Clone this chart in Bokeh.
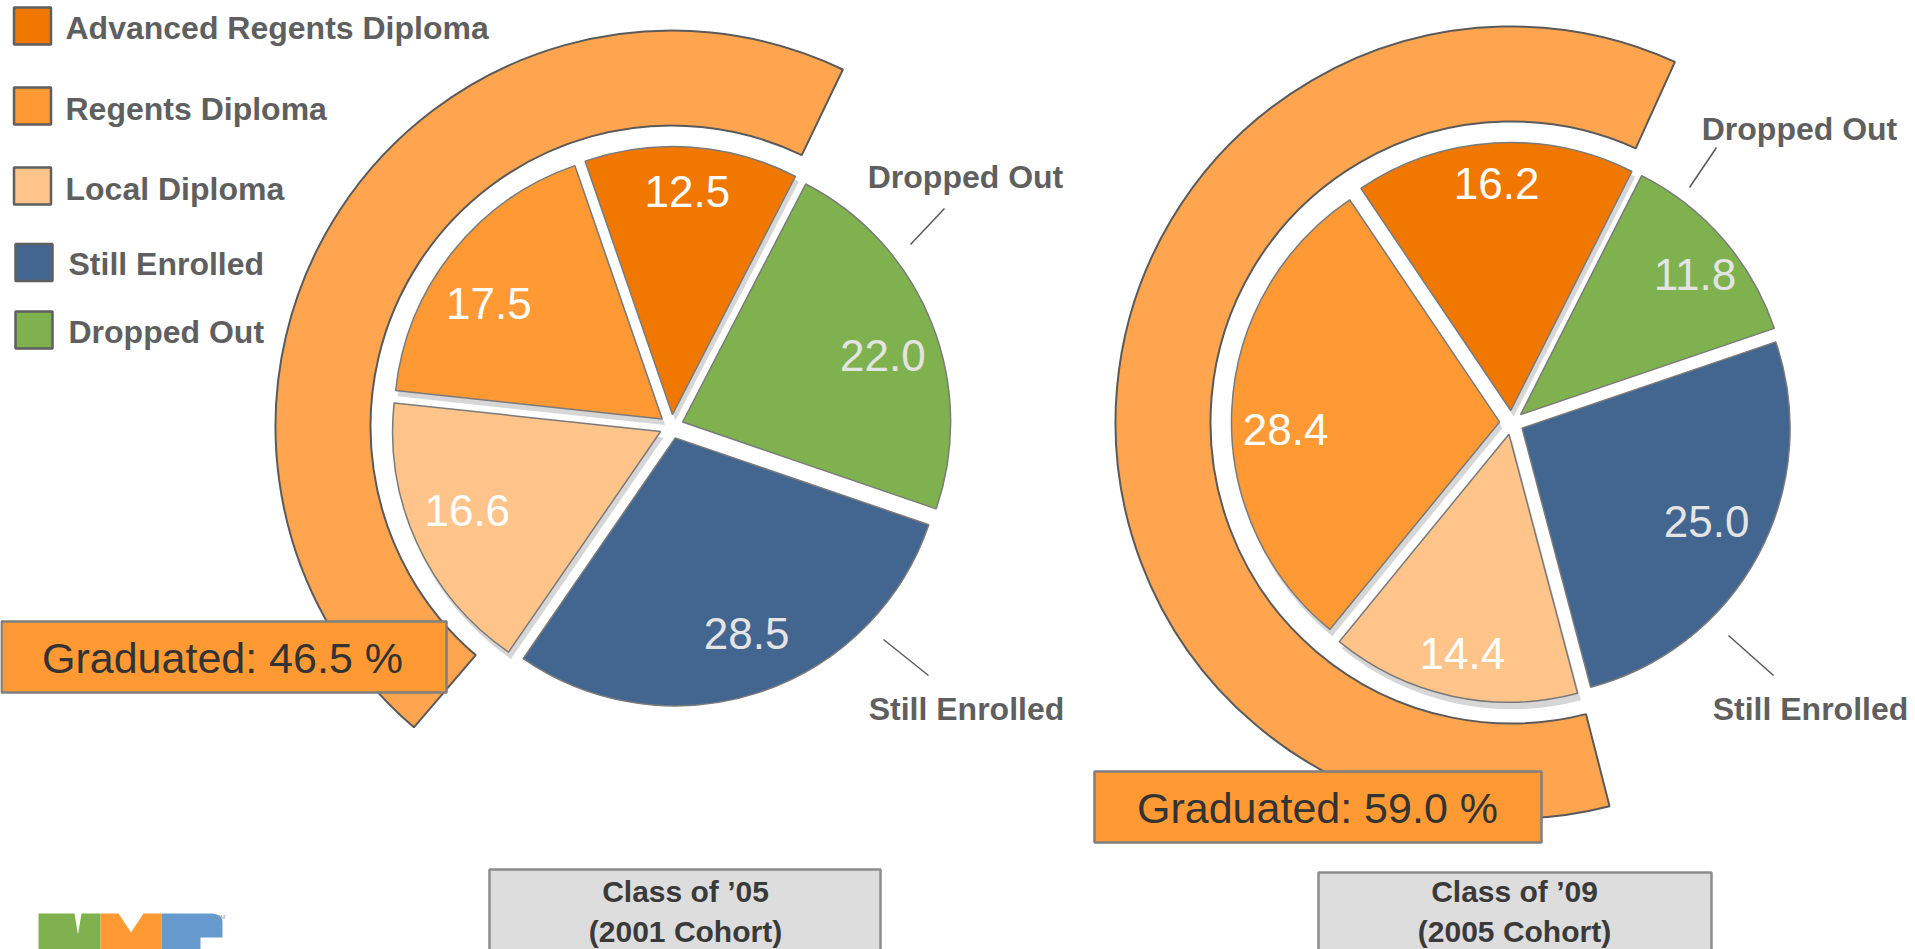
import math
from bokeh.plotting import figure
from bokeh.models import Range1d
from bokeh.core.properties import value
from bokeh.embed import file_html
from bokeh.resources import INLINE

# ---------------- data ----------------
categories = ["Advanced Regents Diploma", "Regents Diploma", "Local Diploma",
              "Still Enrolled", "Dropped Out"]
colors = ["#F07800", "#FF9933", "#FFC48A", "#426690", "#7FB24F"]
label_colors = ["#FFFFFF", "#FFFFFF", "#FFFFFF", "#E4E4E4", "#E4E4E4"]
class_05 = [12.5, 17.5, 16.6, 28.5, 22.0]
class_09 = [16.2, 28.4, 14.4, 25.0, 11.8]
graduated = [46.5, 59.0]
cohort_titles = [["Class of \u201905", "(2001 Cohort)"],
                 ["Class of \u201909", "(2005 Cohort)"]]
callout_names = ["Dropped Out", "Still Enrolled"]
graduated_flags = [True, True, True, False, False]
pie_order = [0, 4, 3, 2, 1]          # clockwise slice order starting from first slice

# ---------------- layout ----------------
W, H = 1915, 949
FONT = value("Liberation Sans")
GRAY_TXT = "#5F5F5F"

R_PIE = 268
EXPLODE = 12
BAND_IN, BAND_OUT = 301, 396

pies = [
    dict(vals=class_05, cx=671, cy=426, rot=-19.0, trim=(6.0, 1.7),
         lab_r=[236, 220, 221, 220, 223], lab_dt=[-0.3, -4.7, 2.2, -1.7, 3.3],
         gbox=(1, 446, 621, 692), gtx=222, gmid=657,
         cbox=(489, 880, 869), ctx=685,
         callouts=[(965, 176, (944, 208), (910, 244)),
                   (966, 708, (883, 639), (928, 675))]),
    dict(vals=class_09, cx=1511, cy=422, rot=-34.0, trim=(0.5, 2.5),
         lab_r=[239, 226, 236, 219, 236], lab_dt=[0.0, -4.4, -0.2, -1.2, 2.0],
         gbox=(1094, 1541, 771, 842), gtx=1317, gmid=807,
         cbox=(1318, 1711, 872), ctx=1514,
         callouts=[(1799, 128, (1716, 147), (1689, 187)),
                   (1810, 708, (1728, 635), (1773, 675))]),
]

p = figure(width=W, height=H, x_range=Range1d(0, W), y_range=Range1d(-H, 0),
           output_backend="svg", toolbar_location=None, min_border=0,
           x_axis_location=None, y_axis_location=None)
p.xgrid.visible = False
p.ygrid.visible = False
p.outline_line_color = None
p.background_fill_color = "white"
p.border_fill_color = "white"


def geometry(vals, rot):
    total = sum(vals)
    out = {}
    cum = rot
    for i in pie_order:
        span = vals[i] / total * 360.0
        out[i] = (cum, cum + span)
        cum += span
    return out


for k, pie in enumerate(pies):
    cx, cy = pie["cx"], -pie["cy"]
    geo = geometry(pie["vals"], pie["rot"])

    # outer "graduated" band
    b_start = geo[2][0] + pie["trim"][0]
    b_end = geo[0][1] - pie["trim"][1]
    p.annular_wedge(x=[cx], y=[cy], inner_radius=BAND_IN, outer_radius=BAND_OUT,
                    start_angle=[math.radians(90 - b_end)],
                    end_angle=[math.radians(90 - b_start)],
                    fill_color="#FFA54F", line_color="#5A5A5A", line_width=2)

    # graduated label box
    l, r, t, b = pie["gbox"]
    p.quad(left=[l], right=[r], top=[-t], bottom=[-b], fill_color="#FF9933",
           line_color="#7F7F7F", line_width=2.5)
    p.text(x=[pie["gtx"]], y=[-pie["gmid"]],
           text=["Graduated: %.1f %%" % graduated[k]], text_font=FONT,
           text_font_size="43px", text_color="#333333", text_align="center",
           text_baseline="middle")

    # slices
    sx, sy, ss, se, sc, shx, shy, shs, she = [], [], [], [], [], [], [], [], []
    lx, ly, lt, lc = [], [], [], []
    for i in pie_order:
        a1, a2 = geo[i]
        am = math.radians((a1 + a2) / 2)
        ux, uy = math.sin(am), math.cos(am)
        x0, y0 = cx + EXPLODE * ux, cy + EXPLODE * uy
        sx.append(x0); sy.append(y0)
        ss.append(math.radians(90 - a2)); se.append(math.radians(90 - a1))
        sc.append(colors[i])
        if graduated_flags[i]:
            shx.append(x0 + 3); shy.append(y0 - 6)
            shs.append(math.radians(90 - a2)); she.append(math.radians(90 - a1))
        al = math.radians((a1 + a2) / 2 + pie["lab_dt"][i])
        lx.append(cx + pie["lab_r"][i] * math.sin(al))
        ly.append(cy + pie["lab_r"][i] * math.cos(al))
        lt.append("%.1f" % pie["vals"][i])
        lc.append(label_colors[i])

    p.wedge(x=shx, y=shy, radius=R_PIE + 1, start_angle=shs, end_angle=she,
            fill_color="#D6D6D6", line_color=None)
    p.wedge(x=sx, y=sy, radius=R_PIE, start_angle=ss, end_angle=se,
            fill_color=sc, line_color="#7A7A7A", line_width=1.5)
    p.text(x=lx, y=ly, text=lt, text_color=lc, text_font=FONT, text_font_size="44px",
           text_align="center", text_baseline="middle")

    # callouts
    for name, (tx, tm, a, bpt) in zip(callout_names, pie["callouts"]):
        p.text(x=[tx], y=[-tm], text=[name], text_font=FONT, text_font_style="bold",
               text_font_size="32px", text_color=GRAY_TXT, text_align="center",
               text_baseline="middle")
        p.segment(x0=[a[0]], y0=[-a[1]], x1=[bpt[0]], y1=[-bpt[1]],
                  line_color="#595959", line_width=1.5)

    # cohort title box
    cl, cr, ct = pie["cbox"]
    p.quad(left=[cl], right=[cr], top=[-ct], bottom=[-990], fill_color="#DDDDDD",
           line_color="#8C8C8C", line_width=2.5)
    p.text(x=[pie["ctx"], pie["ctx"]], y=[-890.5, -931], text=cohort_titles[k],
           text_font=FONT, text_font_style="bold", text_font_size="30px",
           text_color="#3A3A3A", text_align="center", text_baseline="middle")

# ---------------- legend ----------------
leg_y = [25.5, 105.5, 185.5, 262, 329.5]
leg_sq_x = [32, 32, 32, 33.5, 33.5]
leg_tx = [65, 65, 65, 68, 68]
leg_mid = [27.5, 108.5, 188.5, 263.5, 331.5]
p.rect(x=leg_sq_x, y=[-v for v in leg_y], width=37, height=37, fill_color=colors,
       line_color="#5F5F5F", line_width=2.5)
p.text(x=leg_tx, y=[-v for v in leg_mid], text=categories, text_font=FONT,
       text_font_style="bold", text_font_size="32px", text_color=GRAY_TXT,
       text_align="left", text_baseline="middle")

# ---------------- NYC logo (top part, cut by page bottom) ----------------
logo_xs = [
    [38, 74, 77.5, 81, 100, 100, 38],
    [100, 118, 130.5, 143, 161, 161, 100],
    [161, 212, 218, 221, 222, 222, 200, 200, 222, 222, 161],
]
logo_ys = [
    [913, 913, 934, 913, 913, 960, 960],
    [913, 913, 932, 913, 913, 960, 960],
    [913, 913, 914.5, 917, 921, 937, 937, 949, 949, 960, 960],
]
p.patches(xs=logo_xs, ys=[[-v for v in ys] for ys in logo_ys],
          fill_color=["#7FB24F", "#FF9933", "#6699CC"], line_color=None)
p.text(x=[216], y=[-916], text=["TM"], text_font=FONT, text_font_size="6px",
       text_color="#999999", text_align="left", text_baseline="middle")

open("out.html", "w").write(file_html(p, INLINE))
